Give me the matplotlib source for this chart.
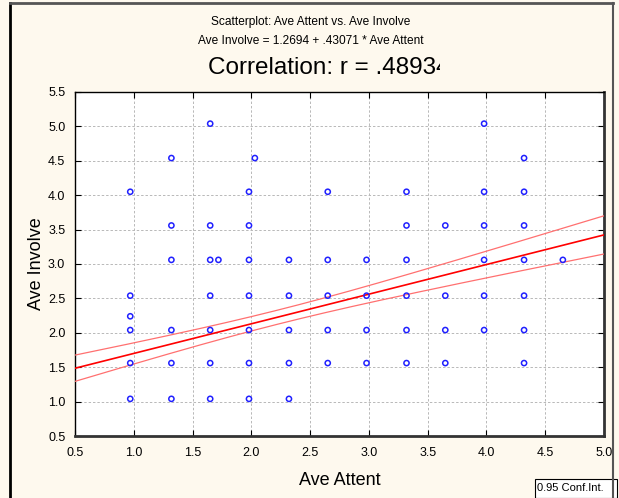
import numpy as np
import matplotlib
matplotlib.use("Agg")
import matplotlib.pyplot as plt
from matplotlib.lines import Line2D
from matplotlib.patches import Rectangle

plt.rcParams['font.family'] = ['Liberation Sans', 'DejaVu Sans']

# Observations grouped by Ave Attent value
attent_levels = [0.97, 1.32, 1.65, 1.72, 1.98, 2.03, 2.32, 2.65, 2.98,
                 3.32, 3.65, 3.98, 4.32, 4.65]
involve_by_level = [
    [4.05, 2.54, 2.24, 2.04, 1.56, 1.04],
    [4.54, 3.56, 3.06, 2.04, 1.56, 1.04],
    [5.04, 3.56, 3.06, 2.54, 2.04, 1.56, 1.04],
    [3.06],
    [4.05, 3.56, 3.06, 2.54, 2.04, 1.56, 1.04],
    [4.54],
    [3.06, 2.54, 2.04, 1.56, 1.04],
    [4.05, 3.06, 2.54, 2.04, 1.56],
    [3.06, 2.54, 2.04, 1.56],
    [4.05, 3.56, 3.06, 2.54, 2.04, 1.56],
    [3.56, 2.54, 2.04, 1.56],
    [5.04, 4.05, 3.56, 3.06, 2.54, 2.04],
    [4.54, 4.05, 3.56, 3.06, 2.54, 2.04, 1.56],
    [3.06],
]

# Regression summary (many respondents share the same plotted location)
intercept = 1.2694
slope = 0.43071
r_value = 0.48934
n_obs = 265
attent_mean = 2.23
attent_sd = 1.10
t_crit = 1.969
conf_level = 0.95

x_ticks = [0.5, 1.0, 1.5, 2.0, 2.5, 3.0, 3.5, 4.0, 4.5, 5.0]
y_ticks = [0.5, 1.0, 1.5, 2.0, 2.5, 3.0, 3.5, 4.0, 4.5, 5.0, 5.5]

x = np.concatenate([[a] * len(v) for a, v in zip(attent_levels, involve_by_level)])
y = np.concatenate([np.array(v) for v in involve_by_level])

W, H, DPI = 619, 498, 100
BG = '#fef9ee'
fig = plt.figure(figsize=(W / DPI, H / DPI), dpi=DPI)
fig.patch.set_facecolor(BG)

# outer frame
fig.add_artist(Line2D([9.5 / W, 9.5 / W], [0, 1 - 3 / H], transform=fig.transFigure,
                      color='black', lw=2))
fig.add_artist(Line2D([9.5 / W, 613 / W], [1 - 3 / H, 1 - 3 / H], transform=fig.transFigure,
                      color='#555555', lw=2))
fig.add_artist(Line2D([613 / W, 613 / W], [0, 1 - 3 / H], transform=fig.transFigure,
                      color='#555555', lw=1.5))

left, top, right, bottom = 75, 92, 604, 436
ax = fig.add_axes([left / W, 1 - bottom / H, (right - left) / W, (bottom - top) / H])
ax.set_facecolor('white')
ax.set_xlim(0.5, 5.0)
ax.set_ylim(0.5, 5.5)
ax.set_xticks(x_ticks)
ax.set_yticks(y_ticks)
ax.set_xticklabels([f"{v:.1f}" for v in x_ticks])
ax.set_yticklabels([f"{v:.1f}" for v in y_ticks])
ax.tick_params(direction='in', length=4, width=0.8, top=True, right=True,
               labelsize=9, colors='black')
ax.tick_params(axis='x', pad=8)
ax.tick_params(axis='y', pad=7)
ax.grid(True, color='#b8b8b8', linestyle=(0, (2.5, 2)), linewidth=0.7)
ax.set_axisbelow(True)
for side in ['left', 'top']:
    ax.spines[side].set_linewidth(1.0)
    ax.spines[side].set_color('black')
for side in ['right', 'bottom']:
    ax.spines[side].set_linewidth(2.0)
    ax.spines[side].set_color('#333333')

# regression line and 95% confidence band for the mean
xs = np.linspace(0.5, 5.0, 200)
fit = intercept + slope * xs
involve_sd = attent_sd * slope / r_value
s_res = involve_sd * np.sqrt(1 - r_value ** 2) * np.sqrt((n_obs - 1) / (n_obs - 2))
sxx = (n_obs - 1) * attent_sd ** 2
half = t_crit * s_res * np.sqrt(1 / n_obs + (xs - attent_mean) ** 2 / sxx)
ax.plot(xs, fit, color='#ff0000', lw=1.2, zorder=3)
ax.plot(xs, fit + half, color='#ff7070', lw=0.9, zorder=3)
ax.plot(xs, fit - half, color='#ff7070', lw=0.9, zorder=3)

ax.scatter(x, y, s=14, facecolors='none', edgecolors='#2020ff', linewidths=1.1, zorder=4)

ax.set_xlabel('Ave Attent', fontsize=13, labelpad=9)
ax.set_ylabel('Ave Involve', fontsize=13, labelpad=2)

# titles
fig.text(311 / W, 1 - 22 / H, 'Scatterplot: Ave Attent vs. Ave Involve', ha='center',
         va='center', fontsize=8.6)
fig.text(311 / W, 1 - 41 / H, 'Ave Involve = 1.2694 + .43071 * Ave Attent', ha='center',
         va='center', fontsize=8.6)
fig.text(208 / W, 1 - 68 / H, f'Correlation: r = {r_value:.5f}'.replace('0.', '.'),
         ha='left', va='center', fontsize=17.5, zorder=1)
# the title field is cut off at its right edge
fig.add_artist(Rectangle((440 / W, 1 - 84 / H), 60 / W, 32 / H, transform=fig.transFigure,
                         facecolor=BG, edgecolor='none', zorder=2))

# confidence interval legend box
fig.add_artist(Rectangle((535 / W, 0), (617 - 535) / W, 19 / H, transform=fig.transFigure,
                         facecolor='white', edgecolor='black', lw=0.8))
fig.text(537 / W, 1 - 488 / H, f'{conf_level:.2f} Conf.Int.', ha='left', va='center',
         fontsize=8)

fig.savefig('out.png', dpi=DPI, facecolor=fig.get_facecolor())
